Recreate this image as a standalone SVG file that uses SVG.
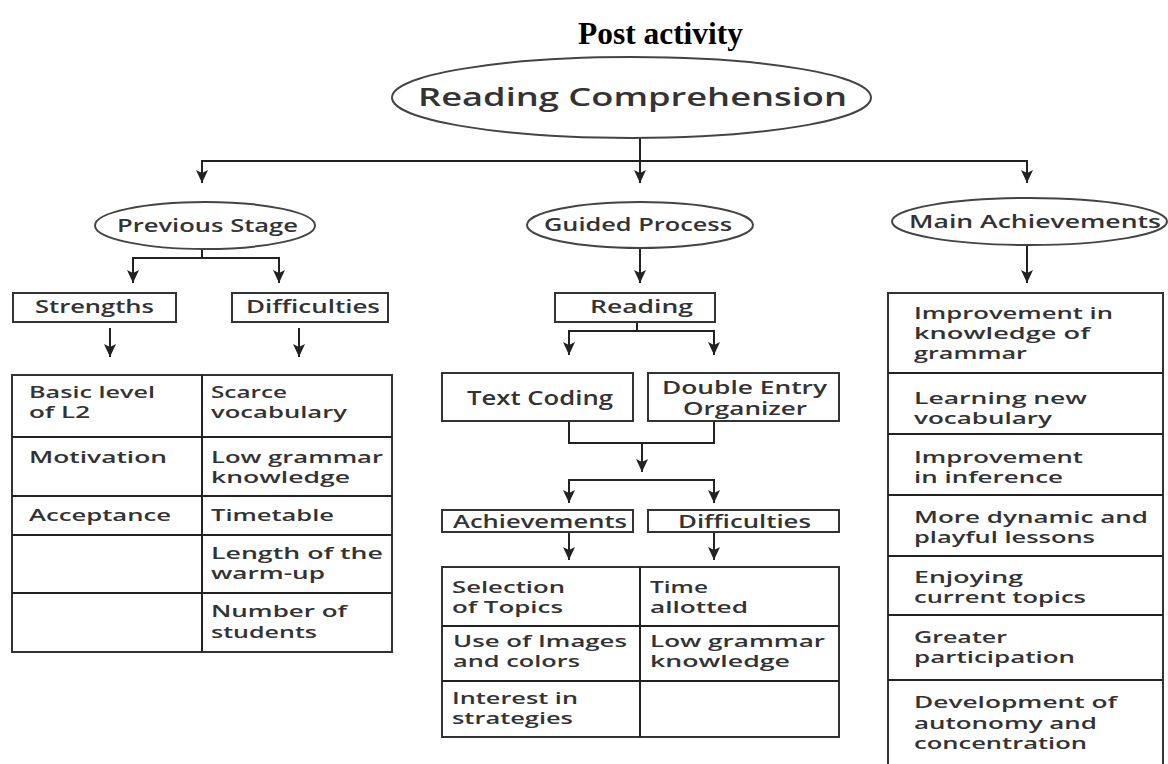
<svg xmlns="http://www.w3.org/2000/svg" width="1168" height="764" viewBox="0 0 1168 764">
<style>
.t{font-family:"Open Sans","DejaVu Sans",sans-serif;font-weight:600;fill:#333;font-size:18px}
.s{font-size:17px}
.h{font-size:19px}
.big{font-size:26px}
.ttl{font-family:"Liberation Serif","Times New Roman",serif;font-weight:bold;font-size:31px;fill:#000}
.ell{fill:#fff;stroke:#444;stroke-width:2}
.box{fill:#fff;stroke:#333;stroke-width:2}
.ln{fill:none;stroke:#222;stroke-width:2}
.c{fill:none;stroke:#222;stroke-width:2}
</style>
<defs>
<marker id="arr" viewBox="0 0 13 12" markerWidth="13" markerHeight="12" refX="13" refY="6" orient="auto" markerUnits="userSpaceOnUse">
<path d="M0,0 L13,6 L0,12 L3,6 z" fill="#222"/>
</marker>
</defs>
<rect width="1168" height="764" fill="#fff"/>

<text id="title" class="ttl" x="578" y="44" textLength="165" lengthAdjust="spacingAndGlyphs">Post activity</text>

<g id="connectors">
<path class="c" d="M640,138 V183" marker-end="url(#arr)"/>
<path class="c" d="M202,183 V161 H1027 V183" marker-end="url(#arr)"/>
<path class="c" d="M202,161 V183" marker-end="url(#arr)"/>
<path class="c" d="M202,249 V258 H133 V283" marker-end="url(#arr)"/>
<path class="c" d="M202,258 H279 V283" marker-end="url(#arr)"/>
<path class="c" d="M110,328 V357" marker-end="url(#arr)"/>
<path class="c" d="M299,328 V357" marker-end="url(#arr)"/>
<path class="c" d="M640,248 V283" marker-end="url(#arr)"/>
<path class="c" d="M1027,245 V283" marker-end="url(#arr)"/>
<path class="c" d="M637,322 V331 H569 V355" marker-end="url(#arr)"/>
<path class="c" d="M637,331 H714 V355" marker-end="url(#arr)"/>
<path class="c" d="M569,421 V443 H714 V421"/>
<path class="c" d="M642,443 V472" marker-end="url(#arr)"/>
<path class="c" d="M642,480 H569 V503" marker-end="url(#arr)"/>
<path class="c" d="M642,480 H714 V503" marker-end="url(#arr)"/>
<path class="c" d="M569,532 V560" marker-end="url(#arr)"/>
<path class="c" d="M714,532 V560" marker-end="url(#arr)"/>
</g>

<g id="reading-comprehension">
<ellipse class="ell" cx="631.5" cy="97.5" rx="239.5" ry="40.5"/>
<text class="t big" x="418" y="106" textLength="429" lengthAdjust="spacingAndGlyphs">Reading Comprehension</text>
</g>

<g id="previous-stage">
<ellipse class="ell" cx="205" cy="225.5" rx="110" ry="23.5"/>
<text class="t" x="117" y="232" textLength="181" lengthAdjust="spacingAndGlyphs">Previous Stage</text>
</g>

<g id="guided-process">
<ellipse class="ell" cx="640" cy="225" rx="113" ry="23"/>
<text class="t" x="544" y="231" textLength="188" lengthAdjust="spacingAndGlyphs">Guided Process</text>
</g>

<g id="main-achievements">
<ellipse class="ell" cx="1029.5" cy="221.5" rx="137.5" ry="23.5"/>
<text class="t" x="909" y="228" textLength="252" lengthAdjust="spacingAndGlyphs">Main Achievements</text>
</g>

<g id="strengths">
<rect class="box" x="13" y="293" width="163" height="29"/>
<text class="t" x="35" y="313" textLength="119" lengthAdjust="spacingAndGlyphs">Strengths</text>
</g>

<g id="difficulties-1">
<rect class="box" x="232" y="293" width="156" height="29"/>
<text class="t" x="246" y="313" textLength="134" lengthAdjust="spacingAndGlyphs">Difficulties</text>
</g>

<g id="reading">
<rect class="box" x="555" y="293" width="160" height="29"/>
<text class="t" x="590" y="313" textLength="103" lengthAdjust="spacingAndGlyphs">Reading</text>
</g>

<g id="previous-table">
<rect class="box" x="12" y="375" width="380" height="277"/>
<path class="ln" d="M202,375 V652 M12,437 H392 M12,496 H392 M12,535 H392 M12,593 H392"/>
<text class="t s" x="29" y="398" textLength="126" lengthAdjust="spacingAndGlyphs">Basic level</text>
<text class="t s" x="29" y="418" textLength="61" lengthAdjust="spacingAndGlyphs">of L2</text>
<text class="t s" x="29" y="463" textLength="138" lengthAdjust="spacingAndGlyphs">Motivation</text>
<text class="t s" x="29" y="521" textLength="142" lengthAdjust="spacingAndGlyphs">Acceptance</text>
<text class="t s" x="211" y="398" textLength="76" lengthAdjust="spacingAndGlyphs">Scarce</text>
<text class="t s" x="211" y="418" textLength="136" lengthAdjust="spacingAndGlyphs">vocabulary</text>
<text class="t s" x="211" y="463" textLength="172" lengthAdjust="spacingAndGlyphs">Low grammar</text>
<text class="t s" x="211" y="483" textLength="139" lengthAdjust="spacingAndGlyphs">knowledge</text>
<text class="t s" x="211" y="521" textLength="123" lengthAdjust="spacingAndGlyphs">Timetable</text>
<text class="t s" x="211" y="559" textLength="172" lengthAdjust="spacingAndGlyphs">Length of the</text>
<text class="t s" x="211" y="579" textLength="114" lengthAdjust="spacingAndGlyphs">warm-up</text>
<text class="t s" x="211" y="617" textLength="136" lengthAdjust="spacingAndGlyphs">Number of</text>
<text class="t s" x="211" y="638" textLength="106" lengthAdjust="spacingAndGlyphs">students</text>
</g>

<g id="text-coding">
<rect class="box" x="442" y="373" width="191" height="48"/>
<text class="t h" x="467" y="405" textLength="146" lengthAdjust="spacingAndGlyphs">Text Coding</text>
</g>

<g id="double-entry-organizer">
<rect class="box" x="648" y="373" width="191" height="48"/>
<text class="t" x="662" y="394" textLength="165" lengthAdjust="spacingAndGlyphs">Double Entry</text>
<text class="t" x="683" y="415" textLength="124" lengthAdjust="spacingAndGlyphs">Organizer</text>
</g>

<g id="achievements">
<rect class="box" x="442" y="510" width="191" height="22"/>
<text class="t" x="453" y="528" textLength="174" lengthAdjust="spacingAndGlyphs">Achievements</text>
</g>

<g id="difficulties-2">
<rect class="box" x="648" y="510" width="191" height="22"/>
<text class="t" x="678" y="528" textLength="133" lengthAdjust="spacingAndGlyphs">Difficulties</text>
</g>

<g id="guided-table">
<rect class="box" x="442" y="567" width="397" height="170"/>
<path class="ln" d="M640,567 V737 M442,626 H839 M442,681 H839"/>
<text class="t s" x="452" y="593" textLength="113" lengthAdjust="spacingAndGlyphs">Selection</text>
<text class="t s" x="452" y="613" textLength="111" lengthAdjust="spacingAndGlyphs">of Topics</text>
<text class="t s" x="453" y="647" textLength="174" lengthAdjust="spacingAndGlyphs">Use of Images</text>
<text class="t s" x="453" y="667" textLength="127" lengthAdjust="spacingAndGlyphs">and colors</text>
<text class="t s" x="452" y="704" textLength="126" lengthAdjust="spacingAndGlyphs">Interest in</text>
<text class="t s" x="452" y="724" textLength="121" lengthAdjust="spacingAndGlyphs">strategies</text>
<text class="t s" x="650" y="593" textLength="58" lengthAdjust="spacingAndGlyphs">Time</text>
<text class="t s" x="650" y="613" textLength="98" lengthAdjust="spacingAndGlyphs">allotted</text>
<text class="t s" x="650" y="647" textLength="175" lengthAdjust="spacingAndGlyphs">Low grammar</text>
<text class="t s" x="650" y="667" textLength="140" lengthAdjust="spacingAndGlyphs">knowledge</text>
</g>

<g id="achievements-table">
<rect class="box" x="888" y="293" width="275" height="490"/>
<path class="ln" d="M888,373 H1163 M888,434 H1163 M888,495 H1163 M888,556 H1163 M888,615 H1163 M888,680 H1163"/>
<text class="t s" x="914" y="319" textLength="199" lengthAdjust="spacingAndGlyphs">Improvement in</text>
<text class="t s" x="914" y="339" textLength="176" lengthAdjust="spacingAndGlyphs">knowledge of</text>
<text class="t s" x="914" y="359" textLength="113" lengthAdjust="spacingAndGlyphs">grammar</text>
<text class="t s" x="914" y="404" textLength="173" lengthAdjust="spacingAndGlyphs">Learning new</text>
<text class="t s" x="914" y="424" textLength="138" lengthAdjust="spacingAndGlyphs">vocabulary</text>
<text class="t s" x="914" y="463" textLength="169" lengthAdjust="spacingAndGlyphs">Improvement</text>
<text class="t s" x="914" y="483" textLength="149" lengthAdjust="spacingAndGlyphs">in inference</text>
<text class="t s" x="914" y="523" textLength="234" lengthAdjust="spacingAndGlyphs">More dynamic and</text>
<text class="t s" x="914" y="543" textLength="181" lengthAdjust="spacingAndGlyphs">playful lessons</text>
<text class="t s" x="914" y="583" textLength="109" lengthAdjust="spacingAndGlyphs">Enjoying</text>
<text class="t s" x="914" y="603" textLength="172" lengthAdjust="spacingAndGlyphs">current topics</text>
<text class="t s" x="914" y="643" textLength="93" lengthAdjust="spacingAndGlyphs">Greater</text>
<text class="t s" x="914" y="663" textLength="161" lengthAdjust="spacingAndGlyphs">participation</text>
<text class="t s" x="914" y="708" textLength="203" lengthAdjust="spacingAndGlyphs">Development of</text>
<text class="t s" x="914" y="729" textLength="183" lengthAdjust="spacingAndGlyphs">autonomy and</text>
<text class="t s" x="914" y="749" textLength="173" lengthAdjust="spacingAndGlyphs">concentration</text>
</g>
</svg>
